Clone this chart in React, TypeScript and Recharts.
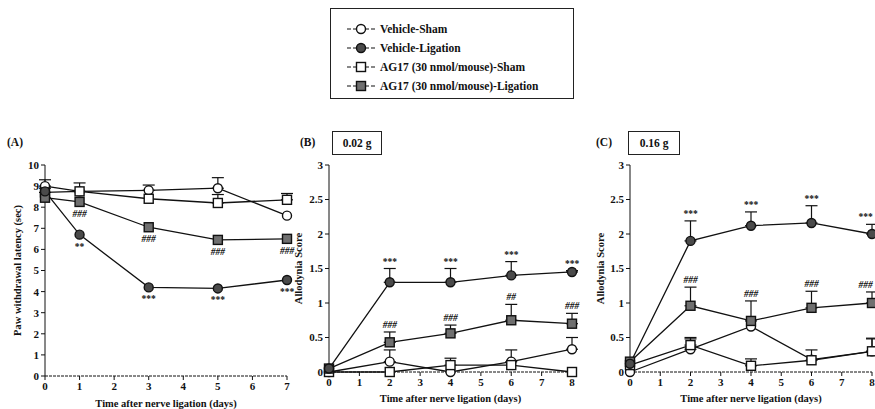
import React from "react";
import { LineChart, Line, XAxis, YAxis, ErrorBar, LabelList, Label } from "recharts";

const FONT = '"Liberation Serif", "DejaVu Serif", serif';

// Panel A: paw withdrawal latency (sec)
const daysA = [0, 1, 3, 5, 7];
const vehShamA = [9.0, 8.75, 8.8, 8.9, 7.6];
const vehShamAErr = [0.3, 0, 0.25, 0.5, 0];
const vehLigA = [8.75, 6.7, 4.2, 4.15, 4.55];
const vehLigAErr = [0, 0, 0, 0, 0];
const agShamA = [8.7, 8.75, 8.4, 8.2, 8.35];
const agShamAErr = [0.2, 0.4, 0, 0.4, 0.3];
const agLigA = [8.45, 8.25, 7.05, 6.45, 6.5];
const agLigAErr = [0, 0, 0, 0, 0];
const vehLigASig = ["", "**", "***", "***", "***"];
const agLigASig = ["", "###", "###", "###", "###"];

// Panel B: allodynia score, 0.02 g
const daysBC = [0, 2, 4, 6, 8];
const vehShamB = [0, 0.15, 0, 0.15, 0.33];
const vehShamBErr = [0, 0.17, 0, 0.17, 0.17];
const vehLigB = [0.05, 1.3, 1.3, 1.4, 1.45];
const vehLigBErr = [0, 0.2, 0.2, 0.2, 0.02];
const agShamB = [0, 0, 0.1, 0.1, 0];
const agShamBErr = [0, 0, 0.1, 0, 0];
const agLigB = [0.05, 0.43, 0.56, 0.75, 0.7];
const agLigBErr = [0, 0.15, 0.12, 0.23, 0.15];
const vehLigBSig = ["", "***", "***", "***", "***"];
const agLigBSig = ["", "###", "###", "##", "###"];

// Panel C: allodynia score, 0.16 g
const vehShamC = [0, 0.33, 0.66, 0.18, 0.3];
const vehShamCErr = [0, 0.15, 0, 0, 0.18];
const vehLigC = [0.12, 1.9, 2.12, 2.16, 2.0];
const vehLigCErr = [0, 0.29, 0.2, 0.25, 0.14];
const agShamC = [0.1, 0.39, 0.09, 0.17, 0.3];
const agShamCErr = [0, 0.11, 0.1, 0.15, 0.19];
const agLigC = [0.15, 0.96, 0.74, 0.93, 1.0];
const agLigCErr = [0, 0.27, 0.29, 0.24, 0.16];
const vehLigCSig = ["", "***", "***", "***", "***"];
const agLigCSig = ["", "###", "###", "###", "###"];

const ticksA = [0, 1, 2, 3, 4, 5, 6, 7];
const yTicksA = [0, 1, 2, 3, 4, 5, 6, 7, 8, 9, 10];
const ticksBC = [0, 1, 2, 3, 4, 5, 6, 7, 8];
const yTicksBC = [0, 0.5, 1, 1.5, 2, 2.5, 3];

const legendNames = [
  "Vehicle-Sham",
  "Vehicle-Ligation",
  "AG17 (30 nmol/mouse)-Sham",
  "AG17 (30 nmol/mouse)-Ligation",
];

const err = (e: number) => (e > 0 ? [0, e] : null);

function buildRows(days, vs, vsE, vl, vlE, as, asE, al, alE, vlSig, alSig) {
  return days.map((d, i) => ({
    day: d,
    vs: vs[i],
    vsErr: err(vsE[i]),
    vl: vl[i],
    vlErr: err(vlE[i]),
    as: as[i],
    asErr: err(asE[i]),
    al: al[i],
    alErr: err(alE[i]),
    vlSig: vlSig[i],
    alSig: alSig[i],
  }));
}

const rowsA = buildRows(daysA, vehShamA, vehShamAErr, vehLigA, vehLigAErr, agShamA, agShamAErr, agLigA, agLigAErr, vehLigASig, agLigASig);
const rowsB = buildRows(daysBC, vehShamB, vehShamBErr, vehLigB, vehLigBErr, agShamB, agShamBErr, agLigB, agLigBErr, vehLigBSig, agLigBSig);
const rowsC = buildRows(daysBC, vehShamC, vehShamCErr, vehLigC, vehLigCErr, agShamC, agShamCErr, agLigC, agLigCErr, vehLigCSig, agLigCSig);

const shapeStyle = [
  { kind: "circle", fill: "#fff" },
  { kind: "circle", fill: "#4a4a4a" },
  { kind: "square", fill: "#fff" },
  { kind: "square", fill: "#6f6f6f" },
];

function Marker({ cx, cy, kind, fill }) {
  if (cx == null || cy == null) return null;
  if (kind === "circle") {
    return <circle cx={cx} cy={cy} r={4.5} fill={fill} stroke="#111" strokeWidth={1.4} />;
  }
  return <rect x={cx - 4.5} y={cy - 4.5} width={9} height={9} fill={fill} stroke="#111" strokeWidth={1.4} />;
}

const dotFor = (s) => (p) => <Marker key={`d-${p.index}`} cx={p.cx} cy={p.cy} kind={s.kind} fill={s.fill} />;

// significance marks sit above the error bar (B, C) or below the point (A)
const sigContent = (errKey, rows, ppu, below, maxX) => (props) => {
  const x = props.x ?? props.viewBox?.x;
  const y = props.y ?? props.viewBox?.y;
  const text = props.value;
  if (!text || x == null || y == null) return null;
  const e = rows[props.index]?.[errKey];
  const top = e ? e[1] * ppu : 0;
  const ty = below ? y + 15 : y - top - 4;
  const italic = text.startsWith("#");
  const half = text.length * 2.8;
  const tx = Math.min(x, maxX - half);
  return (
    <text x={tx} y={ty} textAnchor="middle" fontFamily={FONT} fontSize={9.5} fontWeight="bold" fontStyle={italic ? "italic" : "normal"} fill="#111">
      {text}
    </text>
  );
};

const tickStyle = { fontFamily: FONT, fontSize: 11, fontWeight: "bold", fill: "#111" };
const labelStyle = { fontFamily: FONT, fontSize: 10.5, fontWeight: "bold", fill: "#111" };

function Panel({ rows, width, height, margin, yWidth, xHeight, xTicks, xMax, yTicks, yMax, yLabel, yLabelDx, xLabelOffset, ppu, below }) {
  const maxX = width - 1;
  return (
    <LineChart width={width} height={height} data={rows} margin={margin}>
      <XAxis
        dataKey="day"
        type="number"
        domain={[0, xMax]}
        ticks={xTicks}
        height={xHeight}
        tick={tickStyle}
        tickSize={4}
        tickLine={{ stroke: "#111" }}
        axisLine={{ stroke: "#111", strokeDasharray: "3 1" }}
        interval={0}
      >
        <Label value="Time after nerve ligation (days)" position="insideBottom" offset={xLabelOffset} style={labelStyle} />
      </XAxis>
      <YAxis
        type="number"
        domain={[0, yMax]}
        ticks={yTicks}
        width={yWidth}
        tick={tickStyle}
        tickSize={4}
        tickLine={{ stroke: "#111" }}
        axisLine={{ stroke: "#111" }}
        interval={0}
      >
        <Label value={yLabel} angle={-90} position="center" dx={yLabelDx} style={labelStyle} />
      </YAxis>
      {[
        ["vs", "vsErr", 0],
        ["as", "asErr", 2],
        ["al", "alErr", 3],
        ["vl", "vlErr", 1],
      ].map(([key, errKey, si]) => (
        <Line
          key={key as string}
          dataKey={key as string}
          stroke="#111"
          strokeWidth={1.3}
          isAnimationActive={false}
          dot={dotFor(shapeStyle[si as number])}
          activeDot={false}
        >
          <ErrorBar dataKey={errKey as string} direction="y" width={6} stroke="#111" strokeWidth={1.2} />
          {key === "vl" && <LabelList dataKey="vlSig" content={sigContent("vlErr", rows, ppu, below, maxX)} />}
          {key === "al" && <LabelList dataKey="alSig" content={sigContent("alErr", rows, ppu, below, maxX)} />}
        </Line>
      ))}
    </LineChart>
  );
}

function LegendBox() {
  return (
    <div
      style={{
        position: "absolute",
        left: 330,
        top: 8,
        width: 244,
        height: 91,
        border: "1px solid #222",
        boxSizing: "border-box",
        paddingTop: 10,
      }}
    >
      {legendNames.map((name, i) => (
        <div key={name} style={{ display: "flex", alignItems: "center", height: 19, paddingLeft: 16 }}>
          <svg width={28} height={14} style={{ marginRight: 5 }}>
            <line x1={0} y1={7} x2={28} y2={7} stroke="#111" strokeWidth={1.2} strokeDasharray="4 2" />
            <Marker cx={14} cy={7} kind={shapeStyle[i].kind} fill={shapeStyle[i].fill} />
          </svg>
          <span style={{ fontFamily: FONT, fontSize: 11.5, fontWeight: "bold", color: "#111" }}>{name}</span>
        </div>
      ))}
    </div>
  );
}

const textStyle: React.CSSProperties = { position: "absolute", fontFamily: FONT, fontSize: 11.5, fontWeight: "bold", color: "#111" };

export default function App() {
  return (
    <div style={{ position: "absolute", left: 0, top: 0, width: 875, height: 409, background: "#fff", overflow: "hidden" }}>
      <LegendBox />
      <div style={{ ...textStyle, left: 7, top: 136 }}>(A)</div>
      <div style={{ ...textStyle, left: 300, top: 136 }}>(B)</div>
      <div style={{ ...textStyle, left: 596, top: 136 }}>(C)</div>
      <div style={{ ...textStyle, left: 332, top: 131, width: 50, height: 24, border: "1px solid #222", boxSizing: "border-box", textAlign: "center", lineHeight: "22px" }}>0.02 g</div>
      <div style={{ ...textStyle, left: 628, top: 131, width: 52, height: 24, border: "1px solid #222", boxSizing: "border-box", textAlign: "center", lineHeight: "22px" }}>0.16 g</div>

      <div style={{ position: "absolute", left: 0, top: 140 }}>
        <Panel
          rows={rowsA}
          width={300}
          height={269}
          margin={{ top: 25, right: 13, bottom: 0, left: 0 }}
          yWidth={45}
          xHeight={33}
          xTicks={ticksA}
          xMax={7}
          yTicks={yTicksA}
          yMax={10}
          yLabel="Paw withdrawal latency (sec)"
          yLabelDx={-5}
          xLabelOffset={2}
          ppu={21.1}
          below={true}
        />
      </div>
      <div style={{ position: "absolute", left: 290, top: 140 }}>
        <Panel
          rows={rowsB}
          width={295}
          height={269}
          margin={{ top: 25, right: 13, bottom: 0, left: 0 }}
          yWidth={39}
          xHeight={37}
          xTicks={ticksBC}
          xMax={8}
          yTicks={yTicksBC}
          yMax={3}
          yLabel="Allodynia Score"
          yLabelDx={-11}
          xLabelOffset={7}
          ppu={69}
          below={false}
        />
      </div>
      <div style={{ position: "absolute", left: 580, top: 140 }}>
        <Panel
          rows={rowsC}
          width={295}
          height={269}
          margin={{ top: 25, right: 3, bottom: 0, left: 0 }}
          yWidth={50}
          xHeight={37}
          xTicks={ticksBC}
          xMax={8}
          yTicks={yTicksBC}
          yMax={3}
          yLabel="Allodynia Score"
          yLabelDx={-5}
          xLabelOffset={7}
          ppu={69}
          below={false}
        />
      </div>
    </div>
  );
}
